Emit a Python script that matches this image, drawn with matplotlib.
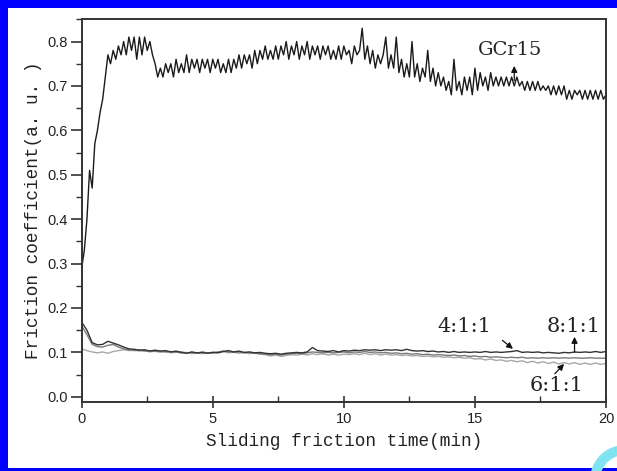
import numpy as np
import matplotlib
matplotlib.use("Agg")
import matplotlib.pyplot as plt
from matplotlib.patches import Rectangle, Wedge
from matplotlib.ticker import MultipleLocator

# ---------------- data ----------------
gcr15 = [0.29, 0.33, 0.40, 0.51, 0.47, 0.57, 0.60, 0.64, 0.67, 0.72,
         0.77, 0.75, 0.78, 0.76, 0.79, 0.77, 0.80, 0.77, 0.81, 0.78,
         0.81, 0.76, 0.81, 0.77, 0.81, 0.78, 0.80, 0.77, 0.75, 0.72,
         0.74, 0.72, 0.75, 0.73, 0.75, 0.72, 0.76, 0.73, 0.75, 0.73,
         0.77, 0.73, 0.76, 0.74, 0.76, 0.73, 0.76, 0.74, 0.76, 0.73,
         0.76, 0.74, 0.76, 0.73, 0.75, 0.73, 0.76, 0.73, 0.76, 0.74,
         0.77, 0.74, 0.77, 0.75, 0.77, 0.74, 0.78, 0.75, 0.78, 0.76,
         0.79, 0.76, 0.78, 0.76, 0.79, 0.76, 0.79, 0.77, 0.80, 0.76,
         0.79, 0.77, 0.80, 0.76, 0.79, 0.77, 0.80, 0.76, 0.79, 0.77,
         0.79, 0.76, 0.79, 0.77, 0.79, 0.76, 0.78, 0.76, 0.79, 0.76,
         0.79, 0.77, 0.78, 0.75, 0.79, 0.77, 0.78, 0.83, 0.76, 0.79,
         0.75, 0.78, 0.74, 0.77, 0.75, 0.77, 0.81, 0.74, 0.77, 0.74,
         0.81, 0.73, 0.76, 0.72, 0.75, 0.72, 0.80, 0.72, 0.75, 0.71,
         0.74, 0.72, 0.78, 0.71, 0.74, 0.70, 0.73, 0.70, 0.72, 0.69,
         0.71, 0.68, 0.76, 0.69, 0.71, 0.68, 0.72, 0.69, 0.72, 0.68,
         0.74, 0.69, 0.73, 0.70, 0.72, 0.69, 0.73, 0.70, 0.72, 0.70,
         0.72, 0.70, 0.72, 0.70, 0.72, 0.70, 0.72, 0.70, 0.71, 0.69,
         0.71, 0.69, 0.71, 0.69, 0.71, 0.69, 0.70, 0.69, 0.70, 0.68,
         0.70, 0.68, 0.70, 0.68, 0.70, 0.67, 0.69, 0.67, 0.69, 0.68,
         0.69, 0.67, 0.69, 0.67, 0.69, 0.67, 0.69, 0.67, 0.69, 0.67,
         0.68]

s411 = [0.168, 0.150, 0.122, 0.117, 0.118, 0.125, 0.121, 0.117, 0.112, 0.108,
        0.107, 0.105, 0.106, 0.103, 0.105, 0.103, 0.104, 0.101, 0.103, 0.100,
        0.098, 0.101, 0.099, 0.100, 0.098, 0.100, 0.099, 0.102, 0.104, 0.101,
        0.103, 0.100, 0.101, 0.099, 0.100, 0.098, 0.097, 0.098, 0.096, 0.098,
        0.099, 0.100, 0.099, 0.101, 0.111, 0.104, 0.103, 0.102, 0.104, 0.101,
        0.104, 0.103, 0.105, 0.104, 0.106, 0.105, 0.106, 0.104, 0.106, 0.105,
        0.106, 0.104, 0.107, 0.104, 0.103, 0.104, 0.102, 0.103, 0.101, 0.102,
        0.100, 0.102, 0.100, 0.101, 0.100, 0.101, 0.100, 0.102, 0.100, 0.101,
        0.100, 0.101, 0.102, 0.104, 0.100, 0.101, 0.100, 0.101, 0.099, 0.100,
        0.099, 0.098, 0.100, 0.099, 0.101, 0.100, 0.101, 0.100, 0.102, 0.100,
        0.102]

s811 = [0.160, 0.140, 0.118, 0.113, 0.112, 0.116, 0.118, 0.112, 0.108, 0.106,
        0.104, 0.106, 0.103, 0.104, 0.102, 0.103, 0.101, 0.102, 0.100, 0.101,
        0.099, 0.100, 0.098, 0.101, 0.099, 0.100, 0.101, 0.103, 0.101, 0.100,
        0.101, 0.099, 0.100, 0.098, 0.097, 0.096, 0.095, 0.096, 0.094, 0.096,
        0.097, 0.098, 0.097, 0.099, 0.101, 0.100, 0.099, 0.100, 0.099, 0.100,
        0.101, 0.099, 0.101, 0.100, 0.102, 0.100, 0.101, 0.099, 0.100, 0.098,
        0.099, 0.097, 0.098, 0.096, 0.097, 0.095, 0.096, 0.094, 0.095, 0.094,
        0.093, 0.094, 0.092, 0.093, 0.091, 0.092, 0.090, 0.091, 0.089, 0.090,
        0.089, 0.088, 0.089, 0.088, 0.089, 0.087, 0.088, 0.087, 0.088, 0.087,
        0.088, 0.087, 0.088, 0.087, 0.088, 0.087, 0.087, 0.088, 0.087, 0.087,
        0.087]

s611 = [0.108, 0.104, 0.101, 0.099, 0.101, 0.098, 0.102, 0.104, 0.106, 0.104,
        0.105, 0.103, 0.104, 0.101, 0.103, 0.100, 0.102, 0.099, 0.101, 0.098,
        0.100, 0.097, 0.099, 0.097, 0.099, 0.098, 0.100, 0.102, 0.099, 0.101,
        0.098, 0.100, 0.097, 0.099, 0.096, 0.095, 0.092, 0.094, 0.091, 0.093,
        0.095, 0.094, 0.096, 0.094, 0.097, 0.095, 0.097, 0.094, 0.096, 0.094,
        0.096, 0.095, 0.097, 0.095, 0.098, 0.095, 0.097, 0.094, 0.096, 0.094,
        0.095, 0.093, 0.094, 0.092, 0.093, 0.091, 0.092, 0.090, 0.091, 0.089,
        0.090, 0.088, 0.089, 0.087, 0.088, 0.085, 0.086, 0.083, 0.085, 0.082,
        0.083, 0.080, 0.082, 0.079, 0.081, 0.077, 0.080, 0.076, 0.079, 0.075,
        0.078, 0.074, 0.077, 0.074, 0.077, 0.073, 0.076, 0.073, 0.076, 0.073,
        0.075]

x_ticks = [0, 5, 10, 15, 20]
y_ticks = [0.0, 0.1, 0.2, 0.3, 0.4, 0.5, 0.6, 0.7, 0.8]

# ---------------- figure ----------------
W, H = 617, 471
fig = plt.figure(figsize=(W / 100, H / 100), dpi=100)
fig.patch.set_facecolor("white")

ax = fig.add_axes([81.7 / W, (H - 401.7) / H, (606 - 81.7) / W, (401.7 - 19.3) / H])

x_g = np.linspace(0, 20, len(gcr15))
x_l = np.linspace(0, 20, len(s411))

ax.plot(x_l, s611, color="#a8a8a8", lw=1.0)
ax.plot(x_l, s811, color="#7a7a7a", lw=1.0)
ax.plot(x_l, s411, color="#333333", lw=1.0)
ax.plot(x_g, gcr15, color="#1a1a1a", lw=1.0)

ax.set_xlim(0, 20)
ax.set_ylim(-0.011, 0.85)
ax.set_xticks(x_ticks)
ax.set_yticks(y_ticks)
ax.xaxis.set_minor_locator(MultipleLocator(2.5))
ax.yaxis.set_minor_locator(MultipleLocator(0.05))

tick_font = dict(family="Liberation Sans", size=10.5)
ax.set_xticklabels([str(v) for v in x_ticks], **tick_font, color="#222222")
ax.set_yticklabels([f"{v:.1f}" for v in y_ticks], **tick_font, color="#222222")

ax.tick_params(axis="x", which="major", direction="inout", length=9, width=1.2, pad=3, color="#333333")
ax.tick_params(axis="x", which="minor", direction="in", length=4, width=1.0, color="#333333")
ax.tick_params(axis="y", which="major", direction="out", length=8, width=1.2, pad=2, color="#333333")
ax.tick_params(axis="y", which="minor", direction="out", length=4, width=1.0, color="#333333")
for sp in ax.spines.values():
    sp.set_linewidth(1.4)
    sp.set_color("#333333")

label_font = dict(family="Liberation Mono", size=12.8, color="#222222")
ax.set_xlabel("Sliding friction time(min)", labelpad=5, **label_font)
ax.set_ylabel("Friction coefficient(a. u. )", labelpad=4, **label_font)

ann_font = dict(family="DejaVu Serif", color="#222222")
arrow = dict(arrowstyle="-|>", color="#111111", lw=0.9, mutation_scale=9, shrinkA=0, shrinkB=0)
ax.text(16.35, 0.782, "GCr15", fontsize=14, ha="center", va="center", **ann_font)
ax.annotate("", xy=(16.5, 0.745), xytext=(16.5, 0.712), arrowprops=arrow)

ax.text(14.6, 0.158, "4:1:1", fontsize=15, ha="center", va="center", **ann_font)
ax.annotate("", xy=(16.45, 0.108), xytext=(16.05, 0.127), arrowprops=arrow)

ax.text(18.75, 0.158, "8:1:1", fontsize=15, ha="center", va="center", **ann_font)
ax.annotate("", xy=(18.8, 0.135), xytext=(18.8, 0.100), arrowprops=arrow)

ax.text(18.1, 0.025, "6:1:1", fontsize=15, ha="center", va="center", **ann_font)
ax.annotate("", xy=(18.4, 0.074), xytext=(18.05, 0.052), arrowprops=arrow)

# ---------------- decorative frame ----------------
blue = "#0000ff"
def px_rect(x0, y0, x1, y1, color):
    # pixel coords with origin top-left
    fig.patches.append(Rectangle((x0 / W, 1 - y1 / H), (x1 - x0) / W, (y1 - y0) / H,
                                 transform=fig.transFigure, facecolor=color,
                                 edgecolor="none", zorder=10))
px_rect(0, 0, W, 8, blue)
px_rect(0, 0, 8, H, blue)
px_rect(0, 468, W, H, blue)

fig.patches.append(Wedge((6.25, -0.09), 0.35, 90, 190, width=0.10,
                         transform=fig.dpi_scale_trans, facecolor="#7fe3f2",
                         edgecolor="none", zorder=11))

fig.savefig("out.png", dpi=100, facecolor="white")
